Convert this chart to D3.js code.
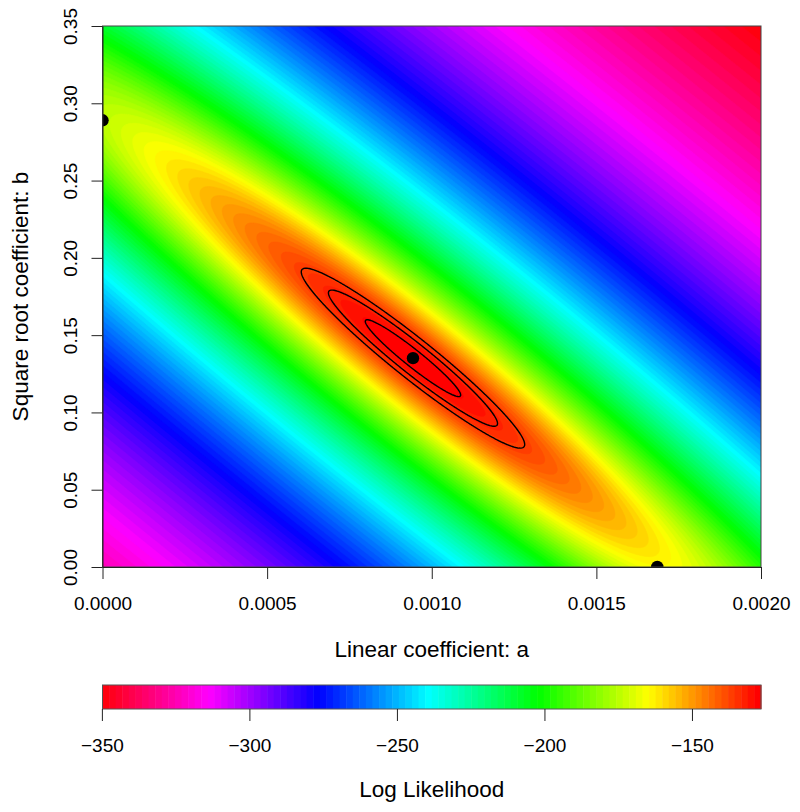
<!DOCTYPE html>
<html>
<head>
<meta charset="utf-8">
<script src="https://cdn.jsdelivr.net/npm/d3@7"></script>
<style>
  body { margin: 0; background: #fff; }
  text { font-family: "Liberation Sans", Arial, Helvetica, sans-serif; fill: #000; }
</style>
</head>
<body>
<svg id="chart" width="800" height="812"></svg>
<script>
// axis ranges and ticks
var aRange = [0, 0.002];
var bRange = [0, 0.35];
var aTicks = [0, 0.0005, 0.0010, 0.0015, 0.0020];
var bTicks = [0, 0.05, 0.10, 0.15, 0.20, 0.25, 0.30, 0.35];
var keyTicks = [-350, -300, -250, -200, -150];

// log likelihood surface
var mle = [0.000943, 0.1351];      // maximum (middle black point)
var maxLogLik = -126.6;
var halfN = 45;                    // n/2 of a profiled normal likelihood
var ridgeAngle = 44.4;             // degrees, in plot-range units
var curvature = [217, 4.5];        // across / along the ridge
var nLevels = 100;

// black points: the maximum, best b with a = 0, best a with b = 0
var pointsA = [0, 0.000943, 0.001685];
var pointsB = [0.289, 0.1351, 0];

// drop in log likelihood for the black contour lines
var contourDrops = [2, 6, 10];

var margin = {left: 102.5, top: 26};
var width = 658.5, height = 541;

var svg = d3.select("#chart");

var x = d3.scaleLinear().domain(aRange).range([margin.left, margin.left + width]);
var y = d3.scaleLinear().domain(bRange).range([margin.top + height, margin.top]);

var phi = ridgeAngle * Math.PI / 180;
function logLik(a, b) {
    var u = (a - mle[0]) / aRange[1], v = (b - mle[1]) / bRange[1];
    var t = u * Math.sin(phi) + v * Math.cos(phi);
    var s = u * Math.cos(phi) - v * Math.sin(phi);
    return maxLogLik - halfN * Math.log(1 + curvature[0] * t * t + curvature[1] * s * s);
}

// grid of values, one cell padded round the plot so the edges are filled
function makeGrid(cell) {
    var pad = 1;
    var nx = Math.ceil(width / cell) + 2 * pad, ny = Math.ceil(height / cell) + 2 * pad;
    var values = new Float64Array(nx * ny);
    var lo = Infinity, hi = -Infinity;
    for (var j = 0; j < ny; j++) {
        for (var i = 0; i < nx; i++) {
            var px = margin.left + (i - pad + 0.5) * cell;
            var py = margin.top + (j - pad + 0.5) * cell;
            var z = logLik(x.invert(px), y.invert(py));
            values[j * nx + i] = z;
            if (i >= pad && i < nx - pad && j >= pad && j < ny - pad) {
                if (z < lo) lo = z;
                if (z > hi) hi = z;
            }
        }
    }
    var proj = d3.geoTransform({
        point: function(gx, gy) {
            this.stream.point(margin.left + (gx - pad) * cell, margin.top + (gy - pad) * cell);
        }
    });
    return {nx: nx, ny: ny, values: values, lo: lo, hi: hi, path: d3.geoPath(proj)};
}

var g = makeGrid(2);
var zmin = g.lo, zmax = g.hi;
var levels = d3.range(nLevels + 1).map(function(i) { return zmin + (zmax - zmin) * i / nLevels; });
function colour(i) { return d3.hsl(360 * (nLevels - 1 - i) / nLevels, 1, 0.5).formatHex(); }

svg.append("defs").append("clipPath").attr("id", "clip")
    .append("rect")
    .attr("x", margin.left).attr("y", margin.top)
    .attr("width", width).attr("height", height);

var plot = svg.append("g").attr("clip-path", "url(#clip)");

plot.append("rect")
    .attr("x", margin.left).attr("y", margin.top)
    .attr("width", width).attr("height", height)
    .attr("fill", colour(0));

var bands = d3.contours()
    .size([g.nx, g.ny])
    .thresholds(levels.slice(1, nLevels))(g.values);

plot.selectAll("path.band")
    .data(bands)
    .join("path")
    .attr("class", "band")
    .attr("d", g.path)
    .attr("fill", function(d, i) { return colour(i + 1); })
    .attr("stroke", function(d, i) { return colour(i + 1); })
    .attr("stroke-width", 0.6);

// black contour lines round the maximum
var fine = makeGrid(1);
var lines = d3.contours()
    .size([fine.nx, fine.ny])
    .thresholds(contourDrops.map(function(d) { return maxLogLik - d; }).sort(d3.ascending))(fine.values);

plot.selectAll("path.line")
    .data(lines)
    .join("path")
    .attr("class", "line")
    .attr("d", fine.path)
    .attr("fill", "none")
    .attr("stroke", "#000")
    .attr("stroke-width", 1.4);

plot.selectAll("circle")
    .data(d3.zip(pointsA, pointsB))
    .join("circle")
    .attr("cx", function(d) { return x(d[0]); })
    .attr("cy", function(d) { return y(d[1]); })
    .attr("r", 6.2)
    .attr("fill", "#000");

svg.append("rect")
    .attr("x", margin.left).attr("y", margin.top)
    .attr("width", width).attr("height", height)
    .attr("fill", "none")
    .attr("stroke", "#444")
    .attr("stroke-width", 1);

// axes
var xAxis = svg.append("g")
    .attr("transform", "translate(0," + (margin.top + height) + ")")
    .style("color", "#222")
    .call(d3.axisBottom(x).tickValues(aTicks).tickFormat(d3.format(".4f"))
        .tickSize(12).tickSizeOuter(0));
xAxis.selectAll("text")
    .attr("y", 43).attr("dy", 0)
    .style("font-size", "19px");

var yAxis = svg.append("g")
    .attr("transform", "translate(" + margin.left + ",0)")
    .style("color", "#222")
    .call(d3.axisLeft(y).tickValues(bTicks).tickFormat(d3.format(".2f"))
        .tickSize(11).tickSizeOuter(0));
yAxis.selectAll("text")
    .attr("transform", "rotate(-90)")
    .attr("x", 0).attr("y", -25.3).attr("dy", 0)
    .attr("text-anchor", "middle")
    .style("font-size", "19px");

svg.selectAll(".domain").attr("stroke-width", 1);

svg.append("text")
    .attr("x", margin.left + width / 2)
    .attr("y", 657)
    .attr("text-anchor", "middle")
    .style("font-size", "22.5px")
    .text("Linear coefficient: a");

svg.append("text")
    .attr("transform", "translate(28," + (margin.top + height / 2) + ") rotate(-90)")
    .attr("text-anchor", "middle")
    .style("font-size", "22.5px")
    .text("Square root coefficient: b");

// colour key
var keyTop = 685, keyHeight = 24;
var keyX = d3.scaleLinear().domain([zmin, zmax]).range([margin.left, margin.left + width]);

svg.append("g")
    .selectAll("rect")
    .data(d3.range(nLevels))
    .join("rect")
    .attr("x", function(i) { return keyX(levels[i]); })
    .attr("y", keyTop)
    .attr("width", function(i) { return keyX(levels[i + 1]) - keyX(levels[i]) + 0.5; })
    .attr("height", keyHeight)
    .attr("fill", function(i) { return colour(i); });

svg.append("rect")
    .attr("x", margin.left).attr("y", keyTop)
    .attr("width", width).attr("height", keyHeight)
    .attr("fill", "none")
    .attr("stroke", "#555")
    .attr("stroke-width", 1);

var keyAxis = svg.append("g")
    .attr("transform", "translate(0," + (keyTop + keyHeight) + ")")
    .style("color", "#222")
    .call(d3.axisBottom(keyX).tickValues(keyTicks).tickSize(12).tickSizeOuter(0));
keyAxis.select(".domain").remove();
keyAxis.selectAll("text")
    .attr("y", 43).attr("dy", 0)
    .style("font-size", "19px");

svg.append("text")
    .attr("x", margin.left + width / 2)
    .attr("y", 797)
    .attr("text-anchor", "middle")
    .style("font-size", "22.5px")
    .text("Log Likelihood");
</script>
</body>
</html>
